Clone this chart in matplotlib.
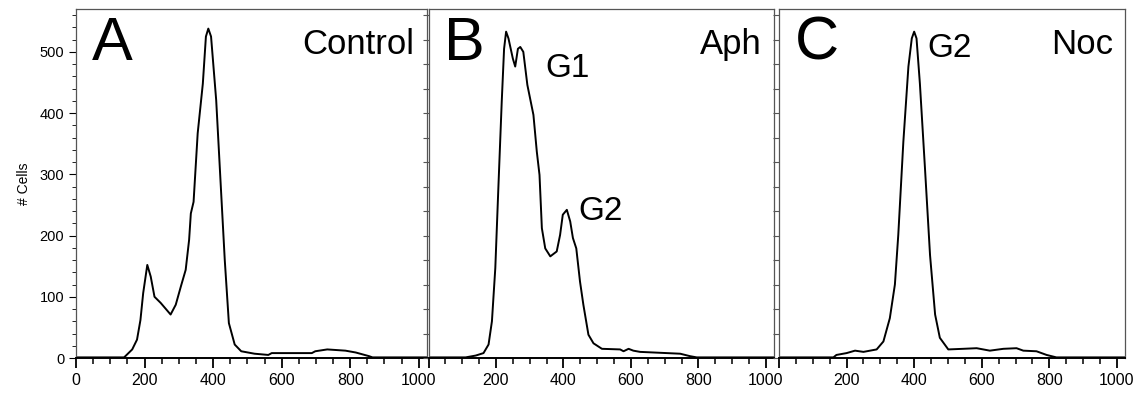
import numpy as np
import matplotlib
matplotlib.use('Agg')
import matplotlib.pyplot as plt
from matplotlib.ticker import MultipleLocator

plt.rcParams['font.family'] = ['Liberation Sans', 'DejaVu Sans']

# DNA content histograms (channel vs # cells)
ctrl_x = [0, 140, 144, 164, 178, 188, 196, 208, 218, 229, 247, 276, 291, 306, 320, 330, 335, 343,
          355, 370, 379, 386, 394, 409, 422, 434, 446, 463, 482, 521, 561, 571, 688, 698, 733,
          786, 816, 855, 865, 1024]
ctrl_y = [1, 1, 3, 14, 30, 62, 106, 152, 133, 100, 90, 71, 87, 117, 144, 193, 236, 255,
          367, 448, 525, 538, 525, 421, 285, 160, 57, 22, 11, 7, 5, 8, 8, 11, 14,
          12, 9, 3, 1, 1]

aph_x = [0, 110, 140, 163, 178, 188, 198, 207, 217, 224, 230, 237, 250, 257, 265, 272, 281, 293,
         311, 321, 329, 336, 346, 361, 380, 390, 398, 410, 420, 428, 438, 449, 459, 474, 489,
         514, 568, 578, 593, 607, 627, 667, 746, 775, 795, 1024]
aph_y = [1, 1, 4, 8, 22, 60, 147, 277, 418, 505, 533, 522, 489, 476, 505, 508, 500, 446,
         397, 337, 299, 212, 179, 166, 174, 201, 234, 242, 223, 196, 179, 125, 87, 38, 24,
         15, 14, 11, 15, 12, 10, 9, 7, 3, 1, 1]

noc_x = [0, 161, 170, 200, 225, 250, 289, 309, 328, 343, 353, 368, 383, 393, 400, 407, 417, 432,
         447, 462, 476, 501, 545, 585, 624, 664, 703, 723, 762, 792, 821, 1024]
noc_y = [1, 1, 5, 8, 12, 10, 14, 27, 65, 120, 201, 353, 476, 522, 533, 522, 448, 310,
         168, 71, 33, 14, 15, 16, 12, 15, 16, 12, 11, 5, 1, 1]

panels = [
    ('A', 'Control', ctrl_x, ctrl_y, []),
    ('B', 'Aph', aph_x, aph_y, [('G1', 345, 459), ('G2', 443, 225)]),
    ('C', 'Noc', noc_x, noc_y, [('G2', 438, 492)]),
]

W, H = 1138, 396
boxes = [(76, 427, 9, 358), (428.5, 774, 9, 358), (779, 1125, 9, 358)]

fig = plt.figure(figsize=(W / 100, H / 100), dpi=100)

for i, ((letter, name, xs, ys, marks), (l, r, t, b)) in enumerate(zip(panels, boxes)):
    ax = fig.add_axes([l / W, (H - b) / H, (r - l) / W, (b - t) / H])
    ax.plot(xs, ys, color='black', lw=1.4)
    ax.set_xlim(0, 1024)
    ax.set_ylim(0, 570)

    for s in ['top', 'right', 'left']:
        ax.spines[s].set_color('#555555')
        ax.spines[s].set_linewidth(0.9)
    ax.spines['bottom'].set_color('black')
    ax.spines['bottom'].set_linewidth(1.4)

    ax.xaxis.set_major_locator(MultipleLocator(200))
    ax.xaxis.set_minor_locator(MultipleLocator(50))
    ax.tick_params(axis='x', which='major', direction='out', length=7, width=1.3,
                   labelsize=11.5, pad=4)
    ax.tick_params(axis='x', which='minor', direction='out', length=4, width=1.1)
    if i > 0:
        ax.set_xticks([0, 200, 400, 600, 800, 1000],
                      ['', '200', '400', '600', '800', '1000'])

    if i == 0:
        ax.yaxis.set_major_locator(MultipleLocator(100))
        ax.yaxis.set_minor_locator(MultipleLocator(20))
        ax.tick_params(axis='y', which='major', direction='out', length=5, labelsize=10.5)
        ax.tick_params(axis='y', which='minor', direction='out', length=3)
        ax.set_ylabel('# Cells', fontsize=10, labelpad=6)
    else:
        ax.yaxis.set_major_locator(MultipleLocator(40))
        ax.tick_params(axis='y', which='major', direction='out', length=4,
                       labelleft=False, color='#555555')

    ax.text(0.045, 0.855, letter, transform=ax.transAxes, fontsize=44,
            ha='left', va='baseline')
    ax.text(0.965, 0.87, name, transform=ax.transAxes, fontsize=25,
            ha='right', va='baseline')
    for lab, mx, my in marks:
        ax.text(mx, my, lab, fontsize=24, ha='left', va='baseline')

fig.savefig('out.png', dpi=100)
